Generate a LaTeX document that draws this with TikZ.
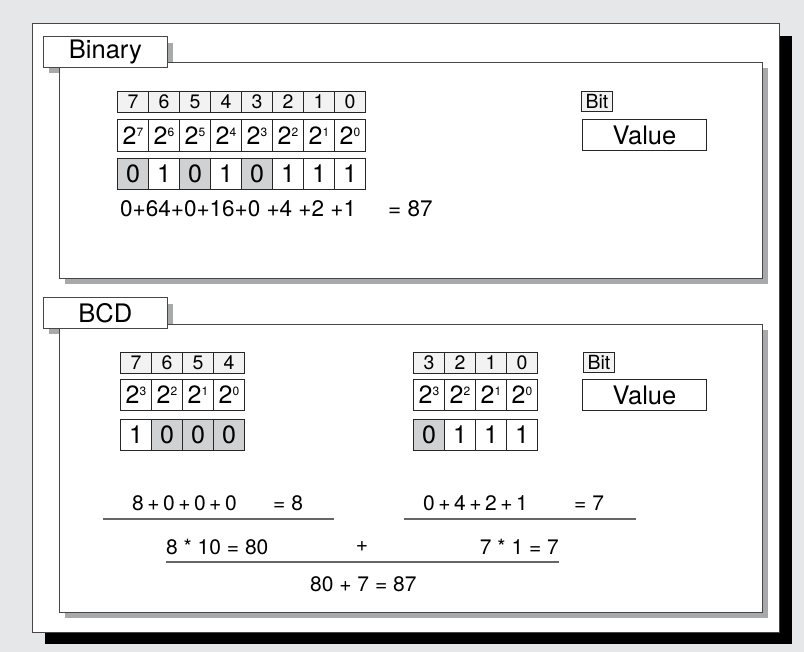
\documentclass[tikz,border=0pt]{standalone}
\usepackage{fontspec}
\setmainfont{TeX Gyre Heros}
\usetikzlibrary{positioning}
\definecolor{bggray}{RGB}{230,231,233}
\definecolor{shadegray}{RGB}{168,169,171}
\definecolor{bitgray}{RGB}{208,209,211}
\definecolor{idxgray}{RGB}{242,242,243}
\definecolor{framegray}{RGB}{70,70,70}
\tikzset{
  cell/.style={draw=black!85,line width=0.9pt,minimum width=31pt,inner sep=0pt,anchor=north west},
  idxcell/.style={cell,fill=idxgray,minimum height=21pt,font=\fontsize{19.5}{19.5}\selectfont},
  powcell/.style={cell,fill=white,minimum height=32pt,font=\fontsize{25}{25}\selectfont},
  bit1/.style={cell,fill=white,minimum height=31pt,font=\fontsize{25}{25}\selectfont},
  bit0/.style={bit1,fill=bitgray},
  tabbox/.style={draw=framegray,fill=white,line width=0.8pt,minimum width=124pt,minimum height=31pt,
                 inner sep=0pt,anchor=north west,font=\fontsize{25.5}{25.5}\selectfont},
  panel/.style={draw=framegray,fill=white,line width=0.8pt},
  eqtext/.style={inner sep=0pt,font=\fontsize{21}{21}\selectfont},
  eqline/.style={draw=black!60,line width=1.1pt},
}
\newcommand{\pw}[1]{2\kern0.3pt\raisebox{8pt}{\fontsize{12}{12}\selectfont #1}}

\begin{document}
\begin{tikzpicture}[x=1pt,y=-1pt]
  \useasboundingbox (0,0) rectangle (804,652);
  \fill[bggray] (0,0) rectangle (804,652);
  % outer frame with heavy shadow
  \fill[black] (45,36) rectangle (792,644);
  \draw[panel] (32,23) rectangle (779,632);

  % ===== Panel 1: Binary =====
  \fill[shadegray] (65,68) rectangle (768,284);
  \fill[shadegray] (49,43) rectangle (173,73);
  \draw[panel] (59,62) rectangle (762,278);
  \node[tabbox] (tabbin) at (43,36){Binary};
  \foreach \n/\v [count=\k from 0] in {7/0,6/1,5/0,4/1,3/0,2/1,1/1,0/1}{
    \node[idxcell] (bi\n) at (117+31*\k,91){\n};
    \node[powcell] (bp\n) at (117+31*\k,119){\pw{\n}};
    \node[bit\v] (bv\n) at (117+31*\k,158){\v};
  }
  \node[eqtext,anchor=west,font=\fontsize{22.5}{22.5}\selectfont] (binsum) at (120,209){0+64+0+16+0 +4 +2 +1};
  \node[eqtext,anchor=west,font=\fontsize{22.5}{22.5}\selectfont] (binres) at (388,209){= 87};
  % legend
  \node[idxcell,minimum height=20pt] (bitlbl1) at (581,91){Bit};
  \node[cell,minimum width=124pt,minimum height=31pt,font=\fontsize{25.5}{25.5}\selectfont] (val1) at (582,119){Value};

  % ===== Panel 2: BCD =====
  \fill[shadegray] (65,330) rectangle (768,618);
  \fill[shadegray] (49,304) rectangle (173,334);
  \draw[panel] (59,324) rectangle (762,612);
  \node[tabbox] (tabbcd) at (43,297){BCD};
  % high nibble
  \foreach \n/\p/\v [count=\k from 0] in {7/3/1,6/2/0,5/1/0,4/0/0}{
    \node[idxcell] (hi\n) at (120+31*\k,352){\n};
    \node[powcell,minimum height=31pt] (hp\n) at (120+31*\k,379){\pw{\p}};
    \node[bit\v] (hv\n) at (120+31*\k,419){\v};
  }
  % low nibble
  \foreach \n/\v [count=\k from 0] in {3/0,2/1,1/1,0/1}{
    \node[idxcell] (li\n) at (413+31*\k,352){\n};
    \node[powcell,minimum height=31pt] (lp\n) at (413+31*\k,379){\pw{\n}};
    \node[bit\v] (lv\n) at (413+31*\k,419){\v};
  }
  \node[idxcell,minimum height=20pt] (bitlbl2) at (583,352){Bit};
  \node[cell,minimum width=124pt,minimum height=31pt,font=\fontsize{25.5}{25.5}\selectfont] (val2) at (582,379){Value};

  % sums
  \node[eqtext,anchor=west] (hisum) at (132,503){8\,+\,0\,+\,0\,+\,0};
  \node[eqtext,anchor=west] (hires) at (273,503){= 8};
  \node[eqtext,anchor=west] (losum) at (423,503){0\,+\,4\,+\,2\,+\,1};
  \node[eqtext,anchor=west] (lores) at (574,503){= 7};
  \draw[eqline] (103,519) -- (334,519);
  \draw[eqline] (404,519) -- (636,519);
  \node[eqtext,anchor=west] (himul) at (166,547){8 * 10 = 80};
  \node[eqtext] (plus) at (362,547){+};
  \node[eqtext,anchor=east] (lomul) at (559,547){7 * 1 = 7};
  \draw[eqline] (166,562) -- (559,562);
  \node[eqtext,anchor=west] (total) at (310,584){80 + 7 = 87};
\end{tikzpicture}
\end{document}
